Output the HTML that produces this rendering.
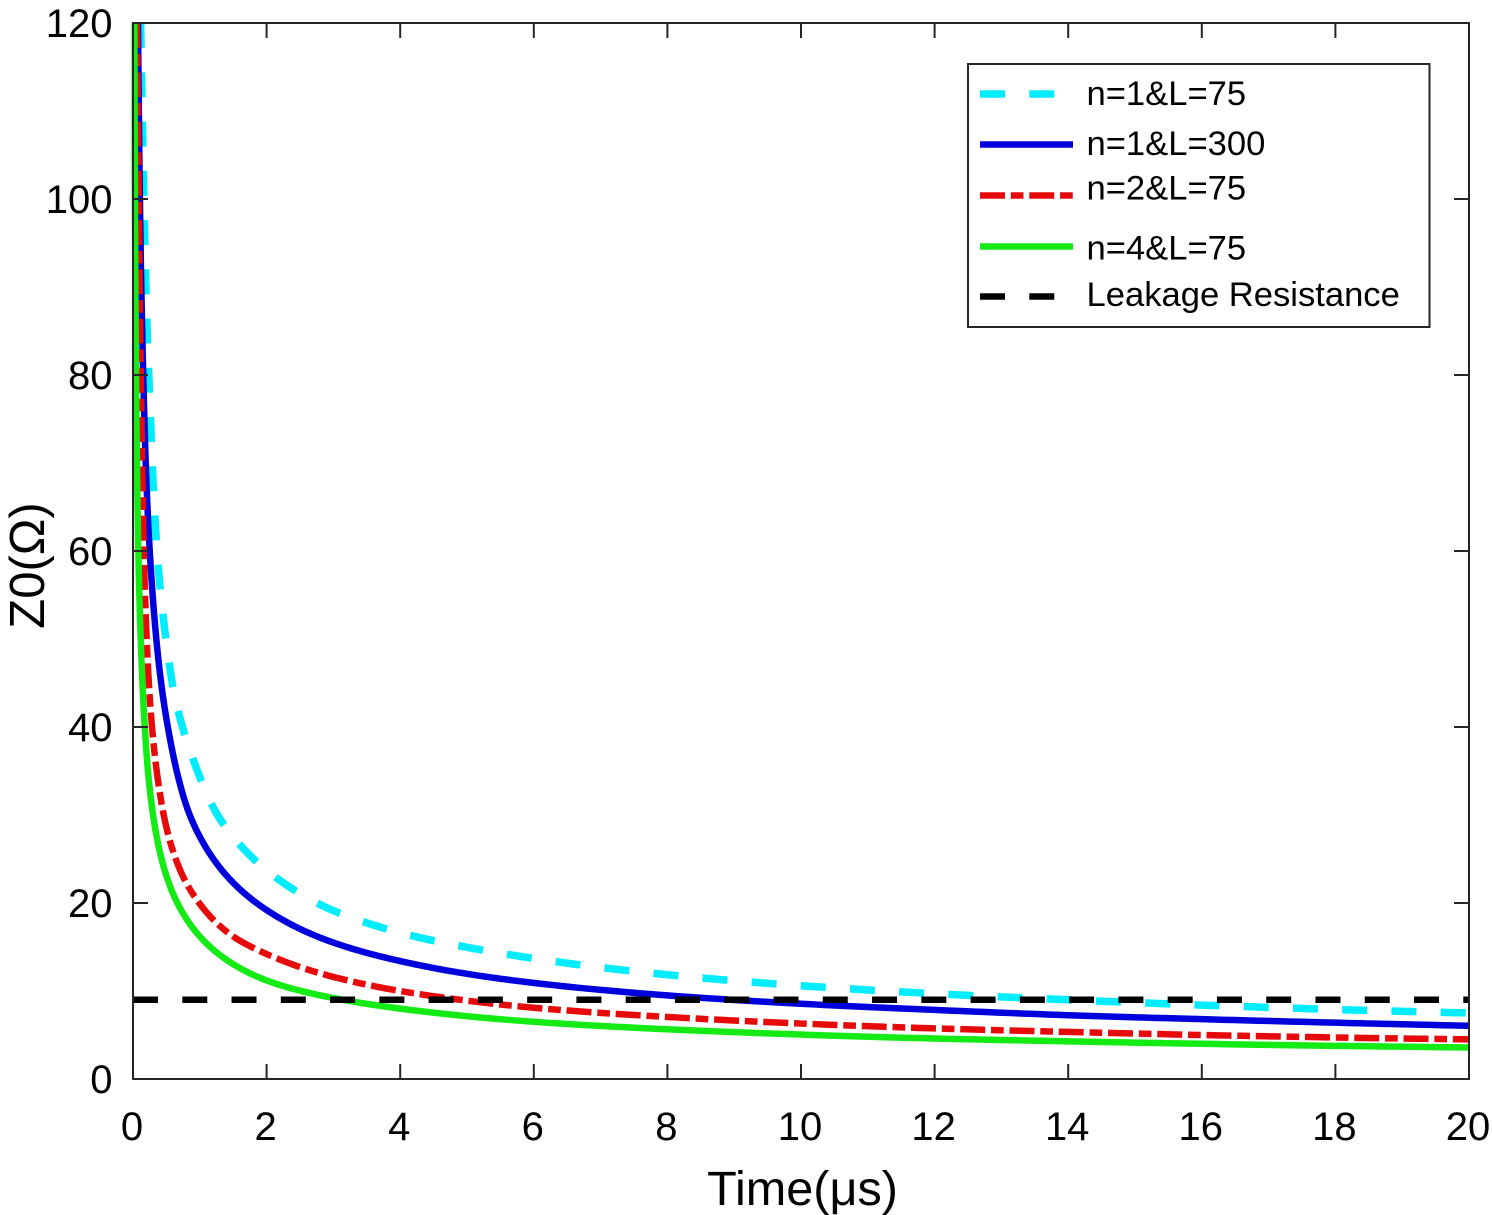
<!DOCTYPE html>
<html lang="en">
<head>
<meta charset="utf-8">
<title>Z0 versus time</title>
<style>
  html, body { margin: 0; padding: 0; background: #fff; }
  svg { display: block; font-family: "Liberation Sans", sans-serif; }
</style>
</head>
<body>
<svg id="chart" xmlns="http://www.w3.org/2000/svg" width="1492" height="1215" viewBox="0 0 1492 1215">
  <defs>
    <clipPath id="plot-clip"><rect x="131.5" y="23" width="1338" height="1056"></rect></clipPath>
  </defs>
  <rect x="0" y="0" width="1492" height="1215" fill="#fff"></rect>
  <g id="series-layer" clip-path="url(#plot-clip)"></g>
  <g id="axes-layer"></g>
  <text x="802.5" y="1205" font-size="48.6" text-anchor="middle" fill="#000">Time(μs)</text>
  <text transform="translate(44,565.5) rotate(-90)" font-size="49" text-anchor="middle" fill="#000">Z0(Ω)</text>
  <g>
    <rect x="968" y="64" width="461.5" height="263" fill="#fff" stroke="#262626" stroke-width="2"></rect>
    <line x1="980" x2="1073" y1="94" y2="94" stroke="#00ecff" stroke-width="7.5" stroke-dasharray="25 24.27"></line>
    <text x="1086.5" y="105" font-size="34.6" fill="#000">n=1&amp;L=75</text>
    <line x1="980" x2="1073" y1="144.5" y2="144.5" stroke="#0000dc" stroke-width="6.5"></line>
    <text x="1086.5" y="155" font-size="34.6" fill="#000">n=1&amp;L=300</text>
    <line x1="980" x2="1073" y1="195.5" y2="195.5" stroke="#e60a0a" stroke-width="6.5" stroke-dasharray="25 5.8 12.7 5.77"></line>
    <text x="1086.5" y="199.5" font-size="34.6" fill="#000">n=2&amp;L=75</text>
    <line x1="980" x2="1073" y1="246.5" y2="246.5" stroke="#14eb14" stroke-width="6.5"></line>
    <text x="1086.5" y="259.5" font-size="34.6" fill="#000">n=4&amp;L=75</text>
    <line x1="980" x2="1073" y1="296.5" y2="296.5" stroke="#000" stroke-width="6.5" stroke-dasharray="25 24.27"></line>
    <text x="1086.5" y="306" font-size="34.6" fill="#000">Leakage Resistance</text>
  </g>
</svg>
<script>
const xTicks = [0, 2, 4, 6, 8, 10, 12, 14, 16, 18, 20];
const yTicks = [0, 20, 40, 60, 80, 100, 120];

const timeN1L75 = [0.115, 0.13, 0.15, 0.165, 0.18, 0.2, 0.24, 0.265, 0.3, 0.37, 0.47, 0.6, 0.94, 1.25, 1.7, 2.25, 2.92, 3.6, 4.33, 5.05, 6, 8, 10, 12, 14, 16, 18, 20];
const zN1L75 = [120, 113, 105, 99.5, 94, 88, 79.4, 74.5, 68, 59, 51.4, 44.5, 35.5, 30.2, 25.8, 22.3, 19.4, 17.5, 16, 14.9, 13.7, 11.85, 10.6, 9.7, 9, 8.4, 7.9, 7.5];

const timeN1L300 = [0.075, 0.09, 0.105, 0.135, 0.165, 0.195, 0.3, 0.43, 0.55, 0.68, 0.82, 1.1, 1.5, 2, 3, 4, 5, 5.8, 8, 10, 12, 14, 16, 18, 20];
const zN1L300 = [120, 108, 99, 86, 76.5, 69, 54.4, 44.5, 38.8, 34.2, 30.6, 26.2, 22.3, 19.2, 15.5, 13.4, 11.95, 11.1, 9.5, 8.55, 7.85, 7.25, 6.8, 6.4, 6.05];

const timeN2L75 = [0.06, 0.075, 0.09, 0.11, 0.13, 0.15, 0.18, 0.23, 0.28, 0.355, 0.5, 0.75, 1, 1.5, 2, 3, 4, 4.8, 6, 8, 10, 12, 14, 16, 18, 20];
const zN2L75 = [120, 108, 97, 84, 73, 64, 55, 46, 40.4, 35, 28.6, 23, 19.9, 16.2, 14.2, 11.6, 10, 9.1, 8.1, 7.05, 6.3, 5.75, 5.35, 5, 4.72, 4.5];

const timeN4L75 = [0.02, 0.03, 0.04, 0.06, 0.08, 0.13, 0.18, 0.25, 0.3, 0.55, 0.8, 1.3, 2, 3, 4, 6, 8, 10, 12, 14, 16, 18, 20];
const zN4L75 = [120, 98, 84, 69, 60, 47, 39.5, 33, 30, 22, 18.2, 14.1, 11.2, 9.2, 8, 6.5, 5.65, 5.05, 4.6, 4.28, 4, 3.77, 3.58];

const timeLeakage = [0, 20];
const zLeakage = [9, 9];

const svgNS = 'http://www.w3.org/2000/svg';
const seriesLayer = document.getElementById('series-layer');
const axesLayer = document.getElementById('axes-layer');

function xScale(t) { return 133 + t * 66.8; }
function yScale(z) { return 1079 - z * 8.8; }

/* Smooth path through the read values: monotone spline in log-log space. */
function curvePath(xs, ys) {
  const n = xs.length;
  if (n < 3) {
    return 'M' + xScale(xs[0]) + ' ' + yScale(ys[0]) + 'L' + xScale(xs[n - 1]) + ' ' + yScale(ys[n - 1]);
  }
  const lx = xs.map(Math.log);
  const ly = ys.map(Math.log);
  const slopes = [];
  for (let i = 0; i < n - 1; i++) {
    slopes.push((ly[i + 1] - ly[i]) / (lx[i + 1] - lx[i]));
  }
  const tangents = [slopes[0]];
  for (let i = 1; i < n - 1; i++) {
    const a = slopes[i - 1];
    const b = slopes[i];
    tangents.push(a * b <= 0 ? 0 : 2 * a * b / (a + b));
  }
  tangents.push(slopes[n - 2]);
  let d = 'M' + xScale(xs[0]).toFixed(2) + ' ' + yScale(ys[0]).toFixed(2);
  const steps = 16;
  for (let i = 0; i < n - 1; i++) {
    const h = lx[i + 1] - lx[i];
    for (let s = 1; s <= steps; s++) {
      const u = s / steps;
      const h00 = (1 + 2 * u) * (1 - u) * (1 - u);
      const h10 = u * (1 - u) * (1 - u);
      const h01 = u * u * (3 - 2 * u);
      const h11 = u * u * (u - 1);
      const v = h00 * ly[i] + h10 * h * tangents[i] + h01 * ly[i + 1] + h11 * h * tangents[i + 1];
      const w = lx[i] + u * h;
      d += 'L' + xScale(Math.exp(w)).toFixed(2) + ' ' + yScale(Math.exp(v)).toFixed(2);
    }
  }
  return d;
}

function drawCurve(name, xs, ys, color, dash, width) {
  const path = document.createElementNS(svgNS, 'path');
  path.setAttribute('d', curvePath(xs, ys));
  path.setAttribute('fill', 'none');
  path.setAttribute('stroke', color);
  path.setAttribute('stroke-width', width);
  if (dash) path.setAttribute('stroke-dasharray', dash);
  
  
  seriesLayer.appendChild(path);
}

drawCurve('series-n1-l75', timeN1L75, zN1L75, '#00ecff', '25 24.27', '7.5');
drawCurve('series-n1-l300', timeN1L300, zN1L300, '#0000dc', '', '6.5');
drawCurve('series-n2-l75', timeN2L75, zN2L75, '#e60a0a', '25 5.8 12.7 5.77', '6.5');
drawCurve('series-n4-l75', timeN4L75, zN4L75, '#14eb14', '', '6.5');
drawCurve('series-leakage-resistance', timeLeakage, zLeakage, '#000000', '25 24.27', '6.5');

function axisLine(name, x1, y1, x2, y2) {
  const line = document.createElementNS(svgNS, 'line');
  line.setAttribute('x1', x1);
  line.setAttribute('y1', y1);
  line.setAttribute('x2', x2);
  line.setAttribute('y2', y2);
  line.setAttribute('stroke', '#262626');
  line.setAttribute('stroke-width', '2');
  line.setAttribute('stroke-linecap', 'square');
  
  
  axesLayer.appendChild(line);
}

function axisLabel(name, x, y, anchor, content) {
  const text = document.createElementNS(svgNS, 'text');
  text.setAttribute('x', x);
  text.setAttribute('y', y);
  text.setAttribute('text-anchor', anchor);
  text.setAttribute('font-size', '40');
  text.setAttribute('fill', '#000');
  
  
  text.textContent = content;
  axesLayer.appendChild(text);
}

const x0 = xScale(0);
const x1 = xScale(20);
const y0 = yScale(0);
const y1 = yScale(120);

axisLine('axis-left', x0, y0, x0, y1);
axisLine('axis-bottom', x0, y0, x1, y0);
axisLine('axis-right', x1, y0, x1, y1);
axisLine('axis-top', x0, y1, x1, y1);

xTicks.forEach(function (t) {
  const px = xScale(t);
  if (t !== 0 && t !== 20) {
    axisLine('x-tick-bottom', px, y0, px, y0 - 14);
    axisLine('x-tick-top', px, y1, px, y1 + 14);
  }
  axisLabel('x-tick-label', px - 1, 1140, 'middle', String(t));
});

yTicks.forEach(function (z) {
  const py = yScale(z);
  if (z !== 0 && z !== 120) {
    axisLine('y-tick-left', x0, py, x0 + 14, py);
    axisLine('y-tick-right', x1, py, x1 - 14, py);
  }
  axisLabel('y-tick-label', 112.5, py + 14, 'end', String(z));
});
</script>
</body>
</html>
